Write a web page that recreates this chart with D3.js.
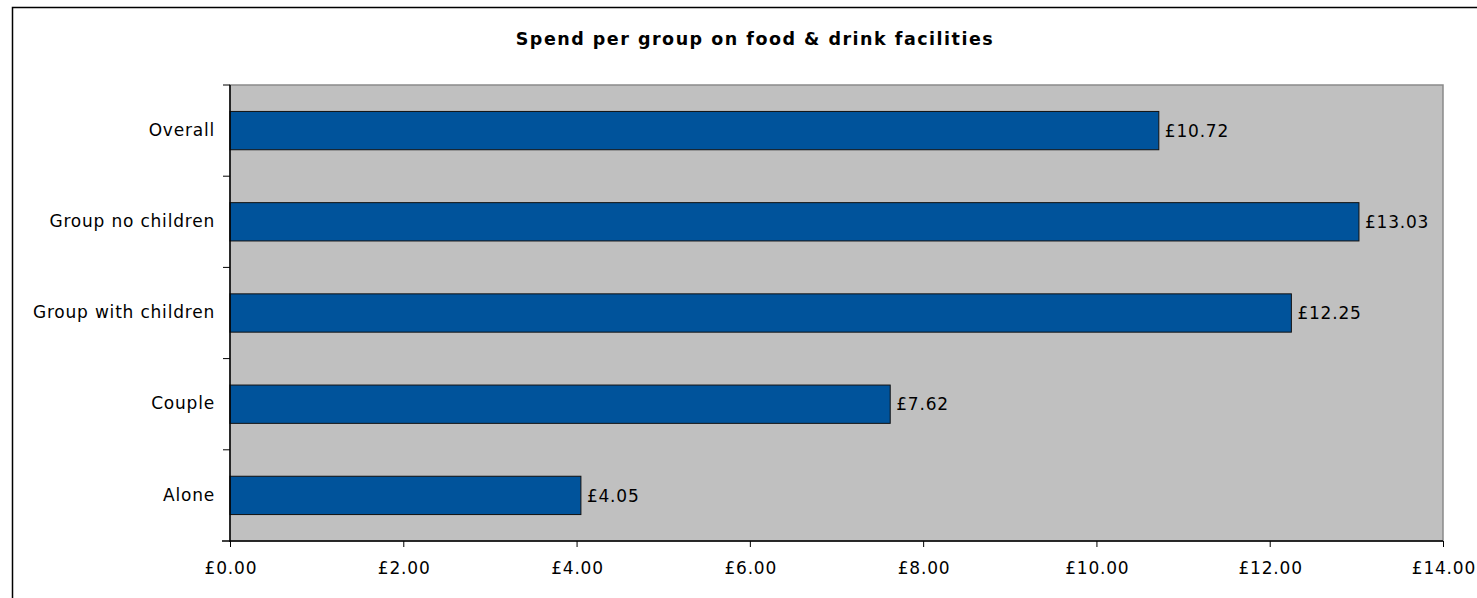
<!DOCTYPE html>
<html>
<head>
<meta charset="utf-8">
<script src="https://cdn.jsdelivr.net/npm/d3@7"></script>
<style>
  html, body { margin: 0; padding: 0; background: #fff; }
  svg { display: block; }
</style>
</head>
<body>
<svg id="chart" width="1477" height="598"></svg>
<script>
// Spend per group on food & drink facilities
const categories = ["Overall", "Group no children", "Group with children", "Couple", "Alone"];
const spend = [10.72, 13.03, 12.25, 7.62, 4.05];
const xTicks = [0, 2, 4, 6, 8, 10, 12, 14];
const chartTitle = "Spend per group on food & drink facilities";

const svg = d3.select("#chart");
const font = "DejaVu Sans, Verdana, sans-serif";
const fontSize = 17;
const spacing = "0.8px";

// outer chart frame
svg.append("rect")
  .attr("x", 12.5).attr("y", 7.5)
  .attr("width", 1500).attr("height", 700)
  .attr("fill", "#fff").attr("stroke", "#000").attr("stroke-width", 1.5);

const plot = { left: 230, right: 1443, top: 85, bottom: 541 };

const x = d3.scaleLinear().domain([0, 14]).range([plot.left, plot.right]);
const y = d3.scaleBand().domain(categories).range([plot.top, plot.bottom]).paddingInner(0.58).paddingOuter(0.29);

// plot area
svg.append("rect")
  .attr("x", plot.left).attr("y", plot.top)
  .attr("width", plot.right - plot.left).attr("height", plot.bottom - plot.top)
  .attr("fill", "#c0c0c0").attr("stroke", "#8a8a8a").attr("stroke-width", 1.5);

svg.append("text")
  .attr("x", 755).attr("y", 45)
  .attr("text-anchor", "middle")
  .attr("font-family", font).attr("font-weight", "bold").attr("font-size", 17.5)
  .attr("letter-spacing", "1.5px")
  .attr("fill", "#000")
  .text(chartTitle);

// bars
svg.append("g").selectAll("rect")
  .data(categories)
  .join("rect")
  .attr("x", x(0))
  .attr("y", d => y(d))
  .attr("width", (d, i) => x(spend[i]) - x(0))
  .attr("height", y.bandwidth())
  .attr("fill", "#00539b")
  .attr("stroke", "#111").attr("stroke-width", 1);

// value labels
svg.append("g").selectAll("text")
  .data(categories)
  .join("text")
  .attr("x", (d, i) => x(spend[i]) + 6)
  .attr("y", d => y(d) + y.bandwidth() / 2)
  .attr("dy", "0.36em")
  .attr("font-family", font).attr("font-size", fontSize)
  .attr("letter-spacing", spacing)
  .attr("fill", "#000")
  .text((d, i) => "£" + spend[i].toFixed(2));

// x axis
const xAxis = svg.append("g")
  .attr("transform", `translate(0,${plot.bottom})`)
  .call(d3.axisBottom(x).tickValues(xTicks).tickSize(6).tickPadding(15)
    .tickFormat(d => "£" + d3.format(".2f")(d)));
xAxis.select(".domain").attr("stroke", "#000").attr("stroke-width", 1.5)
  .attr("d", `M${plot.left - 8},0H${plot.right}`);
xAxis.selectAll(".tick line").attr("stroke", "#000");
xAxis.selectAll(".tick text")
  .attr("font-family", font).attr("font-size", fontSize)
  .attr("letter-spacing", spacing).attr("dx", "0.4px")
  .attr("fill", "#000");

// y axis: ticks sit on category boundaries
const yAxisG = svg.append("g").attr("transform", `translate(${plot.left},0)`);
yAxisG.append("path")
  .attr("d", `M0,${plot.top}V${plot.bottom + 1}`)
  .attr("stroke", "#000").attr("stroke-width", 1.5).attr("fill", "none");
const step = (plot.bottom - plot.top) / categories.length;
yAxisG.selectAll("line.tick")
  .data(d3.range(categories.length))
  .join("line")
  .attr("class", "tick")
  .attr("x1", -7).attr("x2", 0)
  .attr("y1", i => plot.top + i * step)
  .attr("y2", i => plot.top + i * step)
  .attr("stroke", "#000");
yAxisG.selectAll("text")
  .data(categories)
  .join("text")
  .attr("x", -15)
  .attr("y", d => y(d) + y.bandwidth() / 2)
  .attr("dy", "0.3em")
  .attr("text-anchor", "end")
  .attr("font-family", font).attr("font-size", fontSize)
  .attr("letter-spacing", spacing)
  .attr("fill", "#000")
  .text(d => d);
</script>
</body>
</html>
